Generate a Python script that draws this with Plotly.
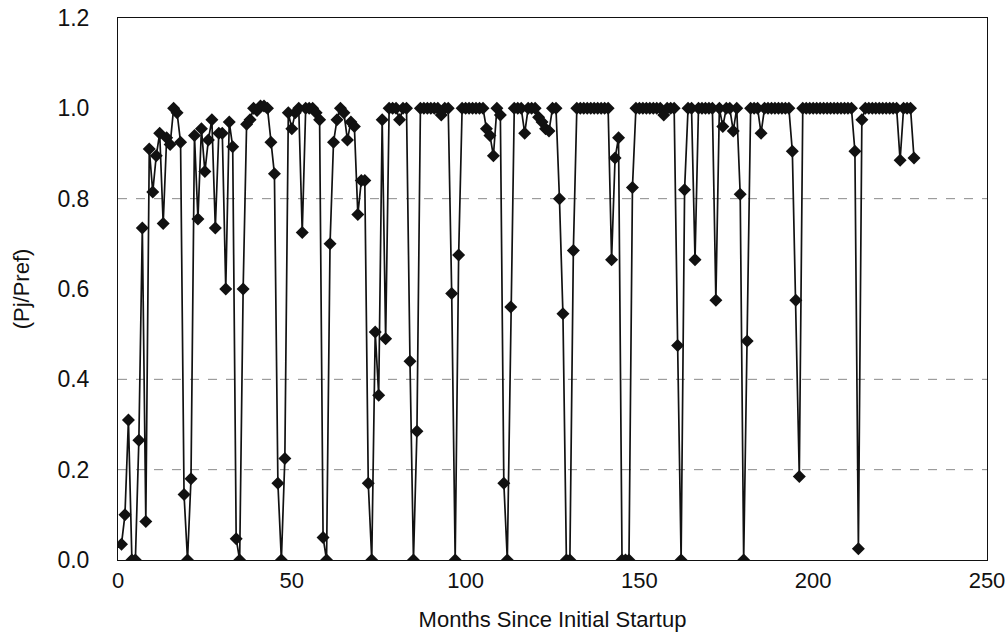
import plotly.graph_objects as go

# Months since initial startup (monthly samples)
months = list(range(1, 230))

# Normalized power (Pj/Pref), one value per month
pj_pref = [
    0.035, 0.10, 0.31, 0.0, 0.0, 0.265, 0.735, 0.085, 0.91, 0.815,
    0.895, 0.945, 0.745, 0.935, 0.92, 1.0, 0.99, 0.925, 0.145, 0.0,
    0.18, 0.94, 0.755, 0.955, 0.86, 0.93, 0.975, 0.735, 0.945, 0.945,
    0.60, 0.97, 0.915, 0.047, 0.0, 0.60, 0.965, 0.975, 1.0, 0.995,
    1.005, 1.005, 1.0, 0.925, 0.855, 0.17, 0.0, 0.225, 0.99, 0.955,
    0.99, 1.0, 0.725, 1.0, 1.0, 1.0, 0.99, 0.975, 0.05, 0.0,
    0.70, 0.925, 0.975, 1.0, 0.99, 0.93, 0.97, 0.96, 0.765, 0.84,
    0.84, 0.17, 0.0, 0.505, 0.365, 0.975, 0.49, 1.0, 1.0, 1.0,
    0.975, 1.0, 1.0, 0.44, 0.0, 0.285, 1.0, 1.0, 1.0, 1.0,
    1.0, 1.0, 0.985, 1.0, 1.0, 0.59, 0.0, 0.675, 1.0, 1.0,
    1.0, 1.0, 1.0, 1.0, 1.0, 0.955, 0.94, 0.895, 1.0, 0.985,
    0.17, 0.0, 0.56, 1.0, 1.0, 1.0, 0.945, 1.0, 1.0, 1.0,
    0.98, 0.97, 0.955, 0.95, 1.0, 1.0, 0.80, 0.545, 0.0, 0.0,
    0.685, 1.0, 1.0, 1.0, 1.0, 1.0, 1.0, 1.0, 1.0, 1.0,
    1.0, 0.665, 0.89, 0.935, 0.0, 0.0, 0.0, 0.825, 1.0, 1.0,
    1.0, 1.0, 1.0, 1.0, 1.0, 1.0, 0.985, 1.0, 1.0, 1.0,
    0.475, 0.0, 0.82, 1.0, 1.0, 0.665, 1.0, 1.0, 1.0, 1.0,
    1.0, 0.575, 1.0, 0.96, 1.0, 1.0, 0.95, 1.0, 0.81, 0.0,
    0.485, 1.0, 1.0, 1.0, 0.945, 1.0, 1.0, 1.0, 1.0, 1.0,
    1.0, 1.0, 1.0, 0.905, 0.575, 0.185, 1.0, 1.0, 1.0, 1.0,
    1.0, 1.0, 1.0, 1.0, 1.0, 1.0, 1.0, 1.0, 1.0, 1.0,
    1.0, 0.905, 0.025, 0.975, 1.0, 1.0, 1.0, 1.0, 1.0, 1.0,
    1.0, 1.0, 1.0, 1.0, 0.885, 1.0, 1.0, 1.0, 0.89,
]

x_ticks = [0, 50, 100, 150, 200, 250]
y_ticks = [0.0, 0.2, 0.4, 0.6, 0.8, 1.0, 1.2]
grid_levels = [0.2, 0.4, 0.8]

FONT = "Liberation Sans, Arial, sans-serif"
INK = "#111111"

fig = go.Figure()
fig.add_trace(go.Scatter(
    x=months, y=pj_pref, mode="lines+markers",
    line=dict(color=INK, width=1.7),
    marker=dict(symbol="diamond", size=10, color=INK),
    showlegend=False,
))

for g in grid_levels:
    fig.add_shape(type="line", xref="x domain", x0=0, x1=1, yref="y", y0=g, y1=g,
                  line=dict(color="#8a8a8a", width=1, dash="dash"), layer="below")

fig.update_layout(
    width=1006, height=642,
    margin=dict(l=118, r=19, t=18, b=82),
    paper_bgcolor="white", plot_bgcolor="white",
    font=dict(family=FONT, size=22, color=INK),
)
fig.update_xaxes(
    range=[0, 250], tickvals=x_ticks, ticktext=[str(v) for v in x_ticks],
    showgrid=False, zeroline=False, showline=True, mirror=True,
    linecolor=INK, linewidth=1, ticks="", ticklabelstandoff=1,
    tickfont=dict(family=FONT, size=22, color=INK),
    title=dict(text="Months Since Initial Startup", standoff=19,
               font=dict(family=FONT, size=22, color=INK)),
    automargin=False,
)
fig.update_yaxes(
    range=[0, 1.2], tickvals=y_ticks, ticktext=[f"{v:.1f}" for v in y_ticks],
    showgrid=False, zeroline=False, showline=True, mirror=True,
    linecolor=INK, linewidth=1, ticks="", ticklabelstandoff=23,
    tickfont=dict(family=FONT, size=23, color=INK),
    title=dict(text="(Pj/Pref)", standoff=21,
               font=dict(family=FONT, size=22, color=INK)),
    automargin=False,
)

fig.write_html("out.html",
               config={"displayModeBar": False},
               post_script="document.body.style.margin='0';document.body.style.overflow='hidden';")
